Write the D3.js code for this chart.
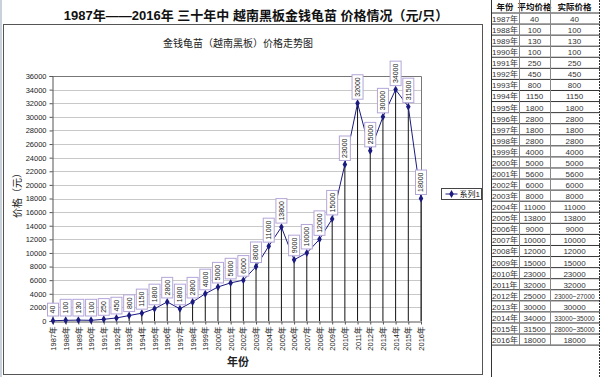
<!DOCTYPE html>
<html>
<head>
<meta charset="utf-8">
<script src="https://cdn.jsdelivr.net/npm/d3@7"></script>
<style>
  body { margin: 0; background: #fff; }
  svg { display: block; }
  text { font-family: "Liberation Sans", "Noto Sans CJK SC", sans-serif; }
</style>
</head>
<body>
<svg id="chart" width="600" height="377"></svg>
<script>
// data
var years = ["1987年","1988年","1989年","1990年","1991年","1992年","1993年","1994年","1995年","1996年",
             "1997年","1998年","1999年","2000年","2001年","2002年","2003年","2004年","2005年","2006年",
             "2007年","2008年","2009年","2010年","2011年","2012年","2013年","2014年","2015年","2016年"];
var prices = [40,100,130,100,250,450,800,1150,1800,2800,
              1800,2800,4000,5000,5600,6000,8000,11000,13800,9000,
              10000,12000,15000,23000,32000,25000,30000,34000,31500,18000];
var actual = ["40","100","130","100","250","450","800","1150","1800","2800",
              "1800","2800","4000","5000","5600","6000","8000","11000","13800","9000",
              "10000","12000","15000","23000","32000","23000~27000","30000","33000~35000","28000~35000","18000"];
var yTicks = d3.range(0, 36001, 2000);
var tableHead = ["年份", "平均价格", "实际价格"];

var svg = d3.select("#chart");

// grey strip on the far left
svg.append("rect").attr("x", 0).attr("y", 0).attr("width", 2).attr("height", 377).attr("fill", "#c9d1da");

// main title
svg.append("text")
    .attr("x", 256).attr("y", 20)
    .attr("text-anchor", "middle")
    .attr("font-family", "'Liberation Serif', 'Noto Sans CJK SC', serif")
    .attr("font-weight", "bold")
    .attr("font-size", 13)
    .attr("fill", "#111")
    .text("1987年——2016年  三十年中  越南黑板金钱龟苗  价格情况（元/只）");

// chart frame
svg.append("rect")
    .attr("x", 3.5).attr("y", 24.5).attr("width", 479).attr("height", 350)
    .attr("fill", "#fff").attr("stroke", "#555");

svg.append("text")
    .attr("x", 238).attr("y", 47)
    .attr("text-anchor", "middle")
    .attr("font-size", 10)
    .attr("fill", "#222")
    .text("金钱龟苗（越南黑板）价格走势图");

// scales
var x = d3.scalePoint()
    .domain(years)
    .range([53, 421]);

var y = d3.scaleLinear()
    .domain([0, 36000])
    .range([321, 76]);

// gridlines
svg.append("g").selectAll("line")
    .data(yTicks.slice(1))
  .enter().append("line")
    .attr("x1", 52).attr("x2", 421)
    .attr("y1", function(d) { return Math.round(y(d)) + 0.5; })
    .attr("y2", function(d) { return Math.round(y(d)) + 0.5; })
    .attr("stroke", "#c8c8c8");

// plot border top / right
svg.append("path")
    .attr("d", "M52,76.5H421.5V321")
    .attr("fill", "none").attr("stroke", "#777");

// y axis
var yAxis = svg.append("g")
    .attr("transform", "translate(52.5,0)")
    .call(d3.axisLeft(y).tickValues(yTicks).tickSize(3).tickFormat(d3.format("d")));
yAxis.select(".domain").attr("stroke", "#555");
yAxis.selectAll(".tick line").attr("stroke", "#555");
yAxis.selectAll("text").attr("font-size", 7.5).attr("fill", "#222").attr("x", -6);

// x axis
var xAxis = svg.append("g")
    .attr("transform", "translate(0,321.5)")
    .call(d3.axisBottom(x).tickSize(3).tickSizeOuter(0));
xAxis.select(".domain").attr("stroke", "#555");
xAxis.selectAll(".tick line").attr("stroke", "#555");
xAxis.selectAll("text")
    .attr("font-size", 7.5).attr("fill", "#222")
    .attr("text-anchor", "end")
    .attr("transform", "rotate(-90)")
    .attr("x", -5).attr("y", 0).attr("dy", "0.35em");

// axis titles
svg.append("text")
    .attr("x", 238).attr("y", 366)
    .attr("text-anchor", "middle")
    .attr("font-weight", "bold")
    .attr("font-size", 11)
    .attr("fill", "#222")
    .text("年份");

svg.append("text")
    .attr("transform", "translate(21,193) rotate(-90)")
    .attr("text-anchor", "middle")
    .attr("font-size", 10)
    .attr("fill", "#222")
    .text("价格（元）");

// drop lines
svg.append("g").selectAll("line")
    .data(prices)
  .enter().append("line")
    .attr("x1", function(d, i) { return x(years[i]); })
    .attr("x2", function(d, i) { return x(years[i]); })
    .attr("y1", function(d) { return y(d); })
    .attr("y2", y(0))
    .attr("stroke", "#111");

// series line
var line = d3.line()
    .x(function(d, i) { return x(years[i]); })
    .y(function(d) { return y(d); });

svg.append("path")
    .datum(prices)
    .attr("d", line)
    .attr("fill", "none")
    .attr("stroke", "#1a1a80")
    .attr("stroke-width", 1);

var diamond = d3.symbol().type(d3.symbolDiamond).size(18);
svg.append("g").selectAll("path")
    .data(prices)
  .enter().append("path")
    .attr("d", diamond)
    .attr("transform", function(d, i) { return "translate(" + x(years[i]) + "," + y(d) + ")"; })
    .attr("fill", "#1a1a80");

// data labels, boxed and rotated
var lab = svg.append("g").selectAll("g")
    .data(prices)
  .enter().append("g")
    .attr("transform", function(d, i) {
        var b = Math.min(y(d) - 4, 316);
        return "translate(" + x(years[i]) + "," + b + ") rotate(-90)"; });

lab.append("rect").attr("class", "box");
lab.append("text")
    .attr("font-size", 7)
    .attr("fill", "#222")
    .attr("x", 2.5)
    .attr("dy", "0.35em")
    .text(function(d) { return d; });
lab.each(function() {
    var g = d3.select(this);
    var w = g.select("text").node().getComputedTextLength();
    g.select("rect")
        .attr("x", 0).attr("y", -5.5)
        .attr("width", w + 5).attr("height", 11)
        .attr("fill", "#fff").attr("stroke", "#b4a6d8");
});

// legend
var leg = svg.append("g").attr("transform", "translate(441.5,188.5)");
leg.append("rect").attr("width", 40).attr("height", 11).attr("fill", "#fff").attr("stroke", "#444");
leg.append("line").attr("x1", 4).attr("x2", 16).attr("y1", 5.5).attr("y2", 5.5).attr("stroke", "#1a1a80");
leg.append("path").attr("d", diamond).attr("transform", "translate(10,5.5)").attr("fill", "#1a1a80");
leg.append("text").attr("x", 18).attr("y", 8.8).attr("font-size", 8)
    .attr("font-family", "'Liberation Serif', 'Noto Sans CJK SC', serif").attr("fill", "#111").text("系列1");

// price table on the right
var colX = [491, 519, 550, 599];
var headH = 13.5, rowH = 11.07;
var tbl = svg.append("g");

tbl.append("rect").attr("x", colX[0] + 0.5).attr("y", 0).attr("width", 109).attr("height", 377).attr("fill", "#fff");

tableHead.forEach(function(h, j) {
    tbl.append("text")
        .attr("x", (colX[j] + colX[j + 1]) / 2).attr("y", 10)
        .attr("text-anchor", "middle")
        .attr("font-family", "'Noto Sans CJK SC', sans-serif")
        .attr("font-weight", "bold").attr("font-size", 8.5).attr("fill", "#111")
        .text(h);
});

var rows = tbl.selectAll("g.row")
    .data(years)
  .enter().append("g")
    .attr("class", "row")
    .attr("transform", function(d, i) { return "translate(0," + (headH + i * rowH) + ")"; });

rows.append("line")
    .attr("x1", colX[0]).attr("x2", 600)
    .attr("y1", rowH - 0.5).attr("y2", rowH - 0.5)
    .attr("stroke", "#333");

var cellFont = "'Liberation Serif', 'Noto Sans CJK SC', serif";
rows.append("text")
    .attr("x", (colX[0] + colX[1]) / 2).attr("y", 8.5)
    .attr("text-anchor", "middle").attr("font-family", cellFont)
    .attr("font-size", 8).attr("fill", "#333")
    .text(function(d) { return d; });
rows.append("text")
    .attr("x", (colX[1] + colX[2]) / 2).attr("y", 8.5)
    .attr("text-anchor", "middle").attr("font-family", cellFont)
    .attr("font-size", 8).attr("fill", "#333")
    .text(function(d, i) { return prices[i]; });
rows.append("text")
    .attr("x", (colX[2] + colX[3]) / 2).attr("y", 8.5)
    .attr("text-anchor", "middle").attr("font-family", cellFont)
    .attr("font-size", function(d, i) { return actual[i].length > 6 ? 6.6 : 8; })
    .attr("fill", "#333")
    .text(function(d, i) { return actual[i]; });

// header bottom line + column rules
tbl.append("line").attr("x1", colX[0]).attr("x2", 600).attr("y1", headH - 0.5).attr("y2", headH - 0.5).attr("stroke", "#333");
var tableBottom = headH + years.length * rowH;
[colX[1], colX[2]].forEach(function(cx) {
    tbl.append("line").attr("x1", cx + 0.5).attr("x2", cx + 0.5).attr("y1", 0).attr("y2", tableBottom).attr("stroke", "#888");
});
tbl.append("line").attr("x1", colX[0] + 0.5).attr("x2", colX[0] + 0.5).attr("y1", 0).attr("y2", 377).attr("stroke", "#333");
tbl.append("line").attr("x1", 599.5).attr("x2", 599.5).attr("y1", 0).attr("y2", 377)
    .attr("stroke", "#333").attr("stroke-dasharray", "2,1");
</script>
</body>
</html>
